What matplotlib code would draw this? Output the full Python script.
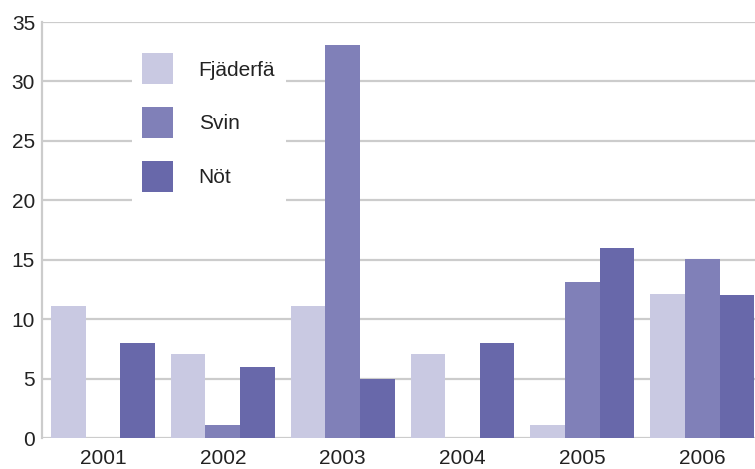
import matplotlib
matplotlib.use("Agg")
import matplotlib.pyplot as plt
import numpy as np

plt.rcParams['font.family'] = ['Liberation Sans', 'DejaVu Sans']

years = ["2001", "2002", "2003", "2004", "2005", "2006"]
series_names = ["Fjäderfä", "Svin", "Nöt"]
fjaderfa = [11.1, 7.1, 11.1, 7.1, 1.1, 12.1]
svin = [0, 1.1, 33.1, 0, 13.1, 15.1]
not_ = [8, 6, 5, 8, 16, 12]
colors = ["#c9c9e2", "#8080b8", "#6868aa"]
yticks = [0, 5, 10, 15, 20, 25, 30, 35]

W, H = 755, 469
fig = plt.figure(figsize=(W / 100, H / 100), dpi=100)
ax = fig.add_axes([42 / W, (H - 438) / H, 1 - 42 / W, (438 - 22) / H])

x = np.arange(len(years))
bw = 0.289
for i, (vals, name, c) in enumerate(zip([fjaderfa, svin, not_], series_names, colors)):
    ax.bar(x + (i - 1) * bw, vals, width=bw, color=c, label=name, zorder=3)

ax.set_xlim(-0.508, 5.44)
ax.set_ylim(0, 35)
ax.set_yticks(yticks)
ax.set_xticks(x)
ax.set_xticklabels(years)
ax.yaxis.grid(True, color="#cccccc", linewidth=1.6, zorder=0)
ax.set_axisbelow(True)
for s in ["top", "right", "bottom"]:
    ax.spines[s].set_visible(False)
ax.spines["left"].set_color("#cccccc")
ax.spines["left"].set_linewidth(1.6)
ax.spines["left"].set_zorder(0)
ax.tick_params(axis="both", length=0, labelsize=15, colors="#222222")
ax.tick_params(axis="y", pad=5)
ax.tick_params(axis="x", pad=8)

leg = ax.legend(loc="upper left", bbox_to_anchor=(132 / W, (H - 43) / H),
                bbox_transform=fig.transFigure, frameon=True, fontsize=15,
                handlelength=1.45, handleheight=1.9, handletextpad=1.25,
                labelspacing=1.1, borderpad=0.5, borderaxespad=0,
                fancybox=False)
leg.get_frame().set_facecolor("white")
leg.get_frame().set_edgecolor("none")
leg.get_frame().set_alpha(1)
for t in leg.get_texts():
    t.set_color("#222222")

fig.savefig("out.png", dpi=100)
